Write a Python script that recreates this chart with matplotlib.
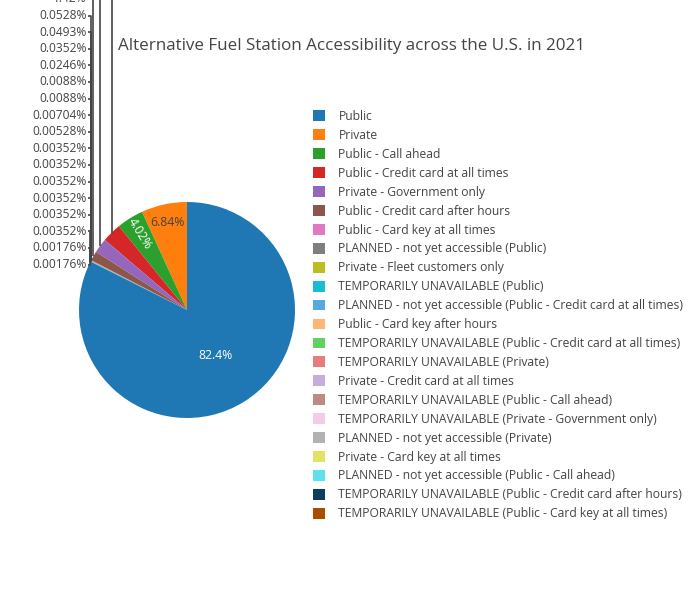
import colorsys
import matplotlib
matplotlib.use('Agg')
import matplotlib.pyplot as plt
import matplotlib.colors as mcolors
import numpy as np

plt.rcParams['font.family'] = ['Open Sans', 'DejaVu Sans']

# Datos: porcentaje de estaciones por tipo de acceso (orden de la leyenda)
titulo = 'Alternative Fuel Station Accessibility across the U.S. in 2021'
etiquetas = [
    'Public',
    'Private',
    'Public - Call ahead',
    'Public - Credit card at all times',
    'Private - Government only',
    'Public - Credit card after hours',
    'Public - Card key at all times',
    'PLANNED - not yet accessible (Public)',
    'Private - Fleet customers only',
    'TEMPORARILY UNAVAILABLE (Public)',
    'PLANNED - not yet accessible (Public - Credit card at all times)',
    'Public - Card key after hours',
    'TEMPORARILY UNAVAILABLE (Public - Credit card at all times)',
    'TEMPORARILY UNAVAILABLE (Private)',
    'Private - Credit card at all times',
    'TEMPORARILY UNAVAILABLE (Public - Call ahead)',
    'TEMPORARILY UNAVAILABLE (Private - Government only)',
    'PLANNED - not yet accessible (Private)',
    'Private - Card key at all times',
    'PLANNED - not yet accessible (Public - Call ahead)',
    'TEMPORARILY UNAVAILABLE (Public - Credit card after hours)',
    'TEMPORARILY UNAVAILABLE (Public - Card key at all times)',
]
porcentajes = [82.4, 6.84, 4.02, 2.9, 2.2, 1.42, 0.0528, 0.0493, 0.0352,
               0.0246, 0.0088, 0.0088, 0.00704, 0.00528, 0.00352, 0.00352,
               0.00352, 0.00352, 0.00352, 0.00352, 0.00176, 0.00176]

base = ['#1f77b4', '#ff7f0e', '#2ca02c', '#d62728', '#9467bd',
        '#8c564b', '#e377c2', '#7f7f7f', '#bcbd22', '#17becf']

def cambiar_luz(c, d):  # aclara u oscurece un color en HSL
    r, g, b = mcolors.to_rgb(c)
    h, l, s = colorsys.rgb_to_hls(r, g, b)
    return colorsys.hls_to_rgb(h, min(1, max(0, l + d)), s)

colores = base + [cambiar_luz(c, 0.2) for c in base] + [cambiar_luz(c, -0.2) for c in base]
colores = colores[:len(etiquetas)]

gris = '#444444'
fig = plt.figure(figsize=(7, 6), dpi=100)
ax = fig.add_axes([0, 0, 1, 1])

# Orden en el pastel: Private ... el mas chico, y Public al final (antihorario desde las 12)
orden = list(range(1, len(etiquetas))) + [0]
centro = (187, 290)
radio = 108
cunas, _ = ax.pie([porcentajes[i] for i in orden], colors=[colores[i] for i in orden],
                  startangle=90, counterclock=True, center=centro, radius=radio)
ax.set_xlim(0, 700)
ax.set_ylim(0, 600)
ax.axis('off')
cuna_de = {i: cunas[k] for k, i in enumerate(orden)}

# Etiquetas dentro (rebanadas grandes) y fuera (el resto)
externas = []
for i, p in enumerate(porcentajes):
    w = cuna_de[i]
    ang = (w.theta1 + w.theta2) / 2
    txt = f'{p:.3g}%'
    if p > 3.5:
        f = 0.5 if p > 50 else 0.83
        x = centro[0] + f * radio * np.cos(np.radians(ang))
        y = centro[1] + f * radio * np.sin(np.radians(ang))
        rot = ang - 180 if p < 5 else 0
        col = gris if i == 1 else 'white'
        ax.text(x, y, txt, ha='center', va='center', fontsize=8.8, color=col,
                rotation=rot, rotation_mode='anchor')
    else:
        xe = centro[0] + radio * np.cos(np.radians(ang))
        ye = centro[1] + radio * np.sin(np.radians(ang))
        externas.append((ye, xe, txt))

# Etiquetas fuera, apiladas a la izquierda
externas.sort()
y0 = externas[0][0] - 3
for k, (ye, xe, txt) in enumerate(externas):
    yl = y0 + k * 16.6
    ax.plot([xe, xe, 88], [ye, yl, yl], color=gris, lw=1.2, solid_capstyle='butt')
    ax.text(87, yl, txt, ha='right', va='center', fontsize=8.64, color=gris)

ax.text(118, 554, titulo, fontsize=12.24, color=gris, ha='left', va='center')

ax.legend([cuna_de[i] for i in range(len(etiquetas))], etiquetas,
          loc='upper left', bbox_to_anchor=(313 / 700, 1 - 110 / 600),
          frameon=False, fontsize=8.7, labelcolor=gris, handlelength=1.0,
          handleheight=1.0, handletextpad=1.1, labelspacing=0.49,
          borderpad=0, borderaxespad=0)

fig.savefig('out.png', dpi=100)
